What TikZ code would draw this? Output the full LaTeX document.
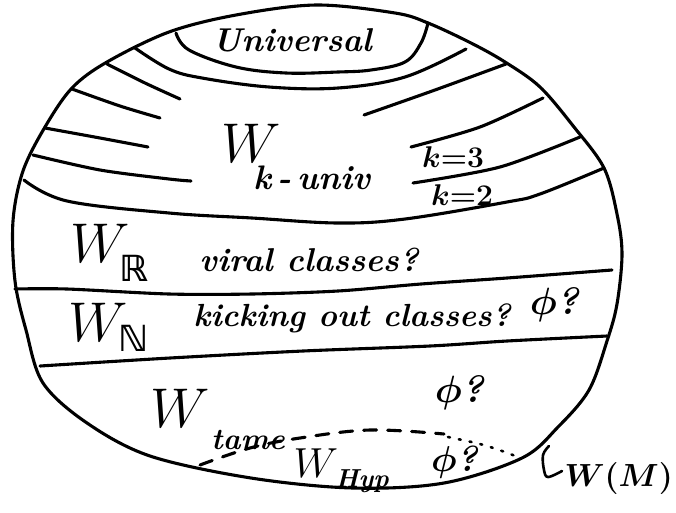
\RequirePackage{fix-cm}
\documentclass[tikz,border=0pt]{standalone}
\usepackage{amssymb}
\usepackage{fontspec}
\newfontfamily\djv{DejaVu Sans}
\begin{document}
\begin{tikzpicture}[x=1pt,y=-1pt, line cap=round, line join=round,
  stroke/.style={line width=3.1pt},
  thin stroke/.style={line width=2.6pt},
  txt/.style={font=\fontsize{33}{38}\selectfont\bfseries\itshape, inner sep=0pt},
  bigw/.style={font=\fontsize{56}{60}\selectfont, inner sep=0pt},
  subtxt/.style={font=\fontsize{34}{38}\selectfont\bfseries\itshape, inner sep=0pt},
  bbsub/.style={font=\fontsize{36}{40}\selectfont\djv\bfseries, inner sep=0pt},
  mathlbl/.style={font=\fontsize{30}{34}\selectfont\boldmath\bfseries, inner sep=0pt},
  philbl/.style={font=\fontsize{38}{42}\selectfont\boldmath\bfseries, inner sep=0pt}]
\useasboundingbox (0,0) rectangle (676,512);
\fill[white] (0,0) rectangle (676,512);

% outer blob W(M)
\draw[stroke] plot[smooth cycle, tension=0.55] coordinates {
 (316,5) (395,13) (428,23) (471,43) (505,62) (540,87) (574,127) (604,168)
 (617,214) (622,254) (617,304) (607,341) (589,390) (558,427) (522,458)
 (444,483) (353,488) (251,478) (150,456) (87,423) (43,383) (26,330)
 (15,281) (13,221) (23,171) (45,127) (72,88) (107,62) (169,32) (236,15)};

% Universal cap
\draw[stroke] plot[smooth, tension=0.6] coordinates {
 (176,33) (189,50) (236,67) (286,73) (338,72) (371,70) (405,62) (421,43) (428,23)};

% k-universal stripes
\draw[stroke] plot[smooth, tension=0.6] coordinates {
 (135,48) (169,69) (202,78) (269,87) (338,88) (405,77) (466,49)};
\draw[stroke] plot[smooth] coordinates {(107,64) (145,83) (180,99)};
\draw[stroke] plot[smooth] coordinates {(72,89) (120,106) (160,118)};
\draw[stroke] plot[smooth] coordinates {(45,128) (100,138) (148,147)};
\draw[stroke] plot[smooth] coordinates {(33,155) (100,170) (169,179) (191,181)};
\draw[stroke] plot[smooth] coordinates {(364,115) (435,90) (506,64)};
\draw[stroke] plot[smooth] coordinates {(411,147) (480,127) (543,98)};
\draw[stroke] plot[smooth] coordinates {(413,183) (500,167) (580,137)};
\draw[stroke] plot[smooth, tension=0.6] coordinates {
 (24,180) (67,201) (169,213) (252,218) (338,223) (405,219) (507,202) (540,194) (604,168)};

% horizontal bands
\draw[stroke] plot[smooth, tension=0.5] coordinates {
 (15,289) (67,289) (169,294) (252,294) (338,291) (421,284) (507,278) (612,270)};
\draw[stroke] plot[smooth, tension=0.5] coordinates {
 (40,366) (170,358) (303,351) (430,346) (507,341) (607,336)};

% dashed W_hyp boundary
\draw[stroke, dash pattern=on 13pt off 11pt] plot[smooth, tension=0.6] coordinates {
 (200,465) (250,448) (300,438) (370,430) (444,434)};
\draw[thin stroke, dash pattern=on 2pt off 9pt] plot[smooth] coordinates {
 (448,437) (480,444) (505,452) (520,458)};

% hook for W(M)
\draw[thin stroke] plot[smooth, tension=0.6] coordinates {
 (549,446) (543,455) (544,470) (548,477) (562,471)};

% labels
\node[txt] (univ) at (292,40) {Universal};
\node[bigw] (wk) at (251,143) {$W$};
\node[subtxt] (wksub) at (312,178) {k\,-\,univ};
\node[mathlbl] (k3) at (453,157) {$k{=}3$};
\node[mathlbl] (k2) at (462,195) {$k{=}2$};

\node[bigw] (wr) at (100,243) {$W$};
\node[bbsub] (wrsub) at (134,268) {ℝ};
\node[txt] (viral) at (309,260) {viral classes?};

\node[bigw] (wn) at (98,322) {$W$};
\node[bbsub] (wnsub) at (134,338) {ℕ};
\node[txt, font=\fontsize{32}{37}\selectfont\bfseries\itshape] (kick) at (352,318) {kicking out classes?};
\node[philbl] (phi1) at (555,305) {$\phi$\textit{?}};

\node[bigw] (wt) at (180,408) {$W$};
\node[subtxt, font=\fontsize{30}{34}\selectfont\bfseries\itshape] (wtsub) at (248,440) {tame};
\node[philbl] (phi2) at (460,393) {$\phi$\textit{?}};

\node[font=\fontsize{42}{46}\selectfont, inner sep=0pt] (wh) at (316,463) {$W$};
\node[font=\fontsize{26}{30}\selectfont\bfseries\itshape, inner sep=0pt] (whsub) at (362,481) {Hyp};
\node[philbl, font=\fontsize{36}{40}\selectfont\boldmath\bfseries] (phi3) at (455,462) {$\phi$\textit{?}};

\node[font=\fontsize{32}{36}\selectfont\boldmath, inner sep=0pt, anchor=east] (wm) at (673,478) {$W(M)$};
\end{tikzpicture}
\end{document}
